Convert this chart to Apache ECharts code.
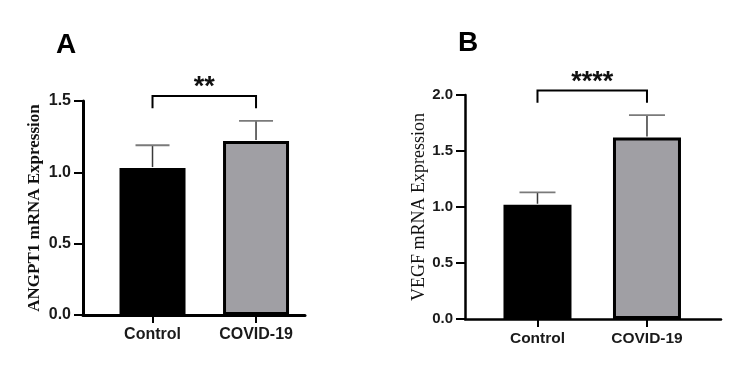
<!DOCTYPE html>
<html>
<head>
<meta charset="utf-8">
<script src="https://cdn.jsdelivr.net/npm/echarts@6/dist/echarts.min.js"></script>
<style>
  html, body { margin: 0; padding: 0; background: #fff; }
</style>
</head>
<body>
<div id="myChart" style="width: 738px; height: 370px;"></div>
<script>
  // groups and bar positions on the x value axis
  const groups = ['Control', 'COVID-19'];
  const groupPos = [1, 2];
  const barColors = ['#000000', '#a09fa4'];

  // panel A - ANGPT1
  const angptMean = [1.03, 1.22];
  const angptSd = [0.16, 0.14];
  const angptTicks = [0, 0.5, 1.0, 1.5];
  // [x1, x2, top of bracket, end of legs, label]
  const angptSig = [[1, 2, 1.535, 1.45, '**']];

  // panel B - VEGF
  const vegfMean = [1.02, 1.62];
  const vegfSd = [0.11, 0.20];
  const vegfTicks = [0, 0.5, 1.0, 1.5, 2.0];
  const vegfSig = [[1, 2, 2.04, 1.93, '****']];

  const myChart = echarts.init(document.getElementById('myChart'));

  function barData(means) {
    return means.map(function (m, i) {
      return { value: [groupPos[i], m], itemStyle: { color: barColors[i] } };
    });
  }

  function errData(means, sds) {
    return means.map(function (m, i) { return [groupPos[i], m, sds[i]]; });
  }

  function errRender(capHalf) {
    return function (params, api) {
      const base = api.coord([api.value(0), api.value(1)]);
      const top = api.coord([api.value(0), api.value(1) + api.value(2)]);
      return {
        type: 'group',
        children: [
          { type: 'line', shape: { x1: base[0], y1: base[1] - 1, x2: top[0], y2: top[1] },
            style: { stroke: '#3a3a3a', lineWidth: 1.5 } },
          { type: 'line', shape: { x1: top[0] - capHalf, y1: top[1], x2: top[0] + capHalf, y2: top[1] },
            style: { stroke: '#7a7a7a', lineWidth: 1.8 } }
        ]
      };
    };
  }

  const sigLabels = {};

  function sigRender(params, api) {
    const a = api.coord([api.value(0), api.value(2)]);
    const b = api.coord([api.value(1), api.value(2)]);
    const legA = api.coord([api.value(0), api.value(3)]);
    const label = sigLabels[params.seriesIndex][params.dataIndex];
    return {
      type: 'group',
      children: [
        { type: 'polyline', shape: { points: [[a[0], legA[1]], a, b, [b[0], legA[1]]] },
          style: { stroke: '#000', lineWidth: 2, fill: null } },
        { type: 'text', x: (a[0] + b[0]) / 2, y: a[1] - 8,
          style: { text: label, fill: '#111', font: 'bold 27px "Liberation Sans", Arial',
                   align: 'center', verticalAlign: 'middle' } }
      ]
    };
  }

  function yAxis(grid, ticks, name, nameFont, gap, fontSize, lineW) {
    return {
      type: 'value', gridIndex: grid,
      min: ticks[0], max: ticks[ticks.length - 1], interval: 0.5,
      name: name, nameLocation: 'middle', nameGap: gap, nameRotate: 90,
      nameTextStyle: nameFont,
      axisLine: { show: true, lineStyle: { color: '#000', width: lineW } },
      axisTick: { show: true, length: 9, lineStyle: { color: '#000', width: 2 } },
      axisLabel: { margin: 12, color: '#1a1a1a', fontWeight: 'bold', fontSize: fontSize,
                   fontFamily: '"Liberation Sans", Arial',
                   formatter: function (v) { return v.toFixed(1); } },
      splitLine: { show: false }
    };
  }

  function xAxis(grid, min, max, fontSize, lineW) {
    return {
      type: 'value', gridIndex: grid, min: min, max: max,
      axisLine: { show: true, onZero: false, lineStyle: { color: '#000', width: lineW } },
      axisTick: { show: true, length: 8, customValues: groupPos, lineStyle: { color: '#000', width: 2 } },
      axisLabel: { customValues: groupPos, margin: 12, color: '#1a1a1a', fontWeight: 'bold',
                   fontSize: fontSize, fontFamily: '"Liberation Sans", Arial',
                   formatter: function (v) { return groups[Math.round(v) - 1]; } },
      splitLine: { show: false }
    };
  }

  const series = [
    { type: 'bar', xAxisIndex: 0, yAxisIndex: 0, barWidth: 66, data: barData(angptMean),
      itemStyle: { borderColor: '#000', borderWidth: 3 } },
    { type: 'custom', xAxisIndex: 0, yAxisIndex: 0, data: errData(angptMean, angptSd),
      renderItem: errRender(17), z: 3 },
    { type: 'custom', xAxisIndex: 0, yAxisIndex: 0, data: angptSig, renderItem: sigRender, clip: false },
    { type: 'bar', xAxisIndex: 1, yAxisIndex: 1, barWidth: 68, data: barData(vegfMean),
      itemStyle: { borderColor: '#000', borderWidth: 3 } },
    { type: 'custom', xAxisIndex: 1, yAxisIndex: 1, data: errData(vegfMean, vegfSd),
      renderItem: errRender(18), z: 3 },
    { type: 'custom', xAxisIndex: 1, yAxisIndex: 1, data: vegfSig, renderItem: sigRender, clip: false }
  ];
  sigLabels[2] = angptSig.map(function (s) { return s[4]; });
  sigLabels[5] = vegfSig.map(function (s) { return s[4]; });

  myChart.setOption({
    animation: false,
    title: [
      { text: 'A', left: 56, top: 31, padding: 0,
        textStyle: { fontSize: 28, fontWeight: 'bold', color: '#000', fontFamily: '"Liberation Sans", Arial' } },
      { text: 'B', left: 458, top: 29, padding: 0,
        textStyle: { fontSize: 28, fontWeight: 'bold', color: '#000', fontFamily: '"Liberation Sans", Arial' } }
    ],
    grid: [
      { left: 83, right: 433, top: 101, bottom: 55 },
      { left: 465, right: 17, top: 95, bottom: 51 }
    ],
    xAxis: [
      xAxis(0, 0.3285, 2.473, 16, 3),
      xAxis(1, 0.338, 2.676, 15.5, 2.5)
    ],
    yAxis: [
      yAxis(0, angptTicks, 'ANGPT1 mRNA Expression',
            { fontFamily: '"Liberation Serif", "Times New Roman"', fontWeight: 'bold', fontSize: 17, color: '#111' },
            40, 16, 3),
      yAxis(1, vegfTicks, 'VEGF mRNA Expression',
            { fontFamily: '"Liberation Serif", "Times New Roman"', fontWeight: 'normal', fontSize: 18, color: '#111' },
            35, 15, 2.5)
    ],
    series: series
  });
</script>
</body>
</html>
